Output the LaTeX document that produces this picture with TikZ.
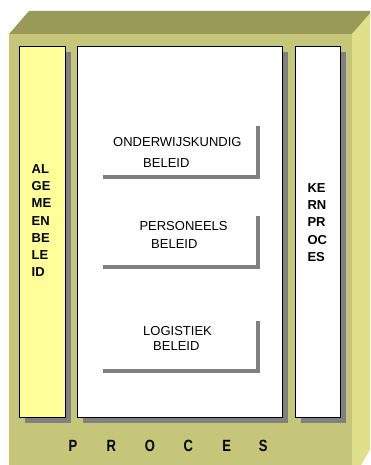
\documentclass[tikz,border=0pt]{standalone}
\usepackage{fontspec}
\setmainfont{Liberation Sans}
\definecolor{frontc}{HTML}{C6C67A}
\definecolor{topc}{HTML}{999958}
\definecolor{sidec}{HTML}{E0E08A}
\definecolor{paleyel}{HTML}{FFFF99}
\definecolor{shadowc}{HTML}{808080}
\begin{document}
\begin{tikzpicture}[x=1pt,y=-1pt,
  colbox/.style={draw=black,line width=0.9pt,inner sep=0pt,anchor=north west},
  shadowbox/.style={fill=shadowc,draw=none,inner sep=0pt,anchor=north west},
  lshadow/.style={draw=shadowc,line width=3.6pt,line join=miter,line cap=butt},
  vtext/.style={font=\fontsize{13}{17.2}\selectfont\bfseries,align=left,inner sep=0pt,anchor=north west},
  midtext/.style={font=\fontsize{13}{15}\selectfont,inner sep=0pt,anchor=base west},
  proctext/.style={font=\fontsize{13}{15}\selectfont\bfseries,inner sep=0pt,anchor=base}
]
\useasboundingbox (0,0) rectangle (370,465);
\begin{scope}
\clip (0,0) rectangle (370,465);
% cube
\fill[frontc] (9,34) rectangle (352,480);
\fill[topc] (9,34) -- (29,11) -- (380,11) -- (352,34) -- cycle;
\fill[sidec] (352,34) -- (372,11) -- (372,446) -- (360,467) -- (352,467) -- cycle;
\end{scope}
% shadows
\node[shadowbox,minimum width=46pt,minimum height=371pt] (s1) at (25,52) {};
\node[shadowbox,minimum width=205pt,minimum height=371pt] (s2) at (83,52) {};
\node[shadowbox,minimum width=45pt,minimum height=371pt] (s3) at (301,52) {};
% boxes
\node[colbox,fill=paleyel,minimum width=46pt,minimum height=371pt] (alg) at (19,46) {};
\node[colbox,fill=white,minimum width=205pt,minimum height=371pt] (mid) at (77,46) {};
\node[colbox,fill=white,minimum width=45pt,minimum height=371pt] (kern) at (295,46) {};
% vertical texts
\node[vtext] (algt) at (31.5,164.3) {AL\\GE\\ME\\EN\\BE\\LE\\ID};
\node[vtext] (kernt) at (307.3,183.3) {KE\\RN\\PR\\OC\\ES};
% inner L-shaped shadows
\coordinate (o1) at (102.7,177);
\coordinate (o2) at (258,177);
\coordinate (o3) at (258,126);
\draw[lshadow] (o1) -- (o2) -- (o3);
\coordinate (p1) at (102.7,267);
\coordinate (p2) at (258,267);
\coordinate (p3) at (258,215.7);
\draw[lshadow] (p1) -- (p2) -- (p3);
\coordinate (l1) at (102.7,371);
\coordinate (l2) at (258,371);
\coordinate (l3) at (258,321);
\draw[lshadow] (l1) -- (l2) -- (l3);
% middle texts
\node[midtext] (ot1) at (113,146.7) {ONDERWIJSKUNDIG};
\node[midtext] (ot2) at (143,167.3) {BELEID};
\node[midtext] (pt1) at (139.3,230) {PERSONEELS};
\node[midtext] (pt2) at (151,248) {BELEID};
\node[midtext] (lt1) at (143,335) {LOGISTIEK};
\node[midtext] (lt2) at (153,350.5) {BELEID};
% PROCES
\foreach \ch/\xx [count=\i] in {P/73,R/111.3,O/150,C/188.3,E/226.7,S/263.3}{
  \node[proctext] (pr\i) at (\xx,451.7) {\scalebox{1}[1.25]{\ch}};
}
\end{tikzpicture}
\end{document}
